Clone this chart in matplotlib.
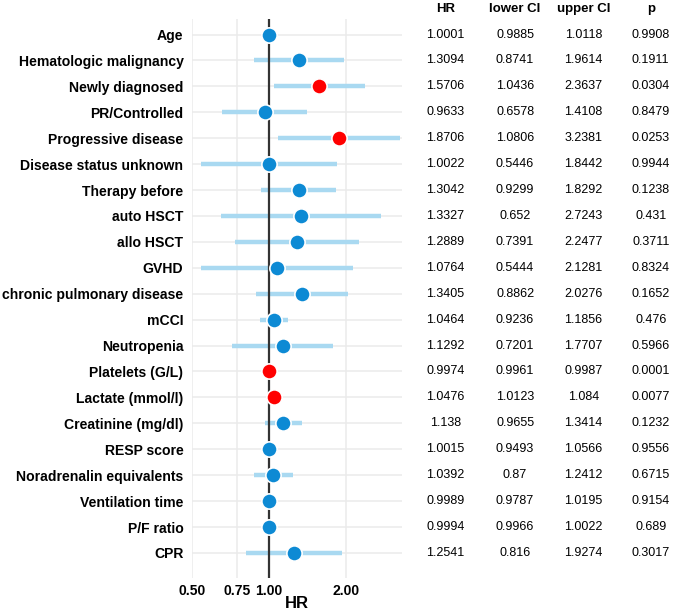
import matplotlib
matplotlib.use("Agg")
import matplotlib.pyplot as plt
import matplotlib.transforms as mtransforms
from matplotlib.ticker import FixedLocator, NullLocator

plt.rcParams['font.family'] = ['Liberation Sans', 'DejaVu Sans']

# data
labels = ["Age", "Hematologic malignancy", "Newly diagnosed", "PR/Controlled",
          "Progressive disease", "Disease status unknown", "Therapy before",
          "auto HSCT", "allo HSCT", "GVHD", "chronic pulmonary disease", "mCCI",
          "Neutropenia", "Platelets (G/L)", "Lactate (mmol/l)", "Creatinine (mg/dl)",
          "RESP score", "Noradrenalin equivalents", "Ventilation time", "P/F ratio", "CPR"]
hr = ["1.0001", "1.3094", "1.5706", "0.9633", "1.8706", "1.0022", "1.3042",
      "1.3327", "1.2889", "1.0764", "1.3405", "1.0464", "1.1292", "0.9974",
      "1.0476", "1.138", "1.0015", "1.0392", "0.9989", "0.9994", "1.2541"]
lower = ["0.9885", "0.8741", "1.0436", "0.6578", "1.0806", "0.5446", "0.9299",
         "0.652", "0.7391", "0.5444", "0.8862", "0.9236", "0.7201", "0.9961",
         "1.0123", "0.9655", "0.9493", "0.87", "0.9787", "0.9966", "0.816"]
upper = ["1.0118", "1.9614", "2.3637", "1.4108", "3.2381", "1.8442", "1.8292",
         "2.7243", "2.2477", "2.1281", "2.0276", "1.1856", "1.7707", "0.9987",
         "1.084", "1.3414", "1.0566", "1.2412", "1.0195", "1.0022", "1.9274"]
pval = ["0.9908", "0.1911", "0.0304", "0.8479", "0.0253", "0.9944", "0.1238",
        "0.431", "0.3711", "0.8324", "0.1652", "0.476", "0.5966", "0.0001",
        "0.0077", "0.1232", "0.9556", "0.6715", "0.9154", "0.689", "0.3017"]
xticks = [0.5, 0.75, 1.0, 2.0]
xtick_labels = ["0.50", "0.75", "1.00", "2.00"]
columns = ["HR", "lower CI", "upper CI", "p"]

fig = plt.figure(figsize=(6.85, 6.13), dpi=100)
ax = fig.add_axes([0.280, 0.057, 0.307, 0.912])

ypos = list(range(len(labels)))
for i in ypos:
    ax.plot([float(lower[i]), float(upper[i])], [i, i], color='#A9D9F1',
            lw=3.2, solid_capstyle='butt', zorder=2)
ax.axvline(1.0, color='#333333', lw=1.6, zorder=3)
for i in ypos:
    col = '#FF0000' if float(pval[i]) < 0.05 else '#0D8AD4'
    ax.plot(float(hr[i]), i, 'o', ms=11, color=col, mec='white', mew=1.2, zorder=4)

ax.set_xscale('log')
ax.set_xlim(0.5, 3.3)
ax.set_ylim(len(labels) - 1 + 0.97, -0.6)
ax.xaxis.set_major_locator(FixedLocator(xticks))
ax.xaxis.set_minor_locator(NullLocator())
ax.set_xticklabels(xtick_labels, fontsize=10, fontweight='bold')
ax.set_yticks(ypos)
ax.set_yticklabels(labels, fontsize=10.1, fontweight='bold')
ax.tick_params(length=0, pad=6)
ax.tick_params(axis='x', pad=4)
ax.grid(True, color='#EBEBEB', lw=1.1)
ax.set_axisbelow(True)
for s in ax.spines.values():
    s.set_visible(False)
ax.set_xlabel("HR", fontsize=12, fontweight='bold', labelpad=-1)

# table on the right
trans = mtransforms.blended_transform_factory(fig.transFigure, ax.transData)
col_x = [0.650, 0.752, 0.852, 0.950]
for cx, name, vals in zip(col_x, columns, [hr, lower, upper, pval]):
    ax.text(cx, -0.97, name, transform=trans, ha='center', va='center',
            fontsize=9.5, fontweight='bold', clip_on=False)
    for i, v in enumerate(vals):
        ax.text(cx, i, v, transform=trans, ha='center', va='center',
                fontsize=9, clip_on=False)

fig.savefig("out.png", dpi=100)
